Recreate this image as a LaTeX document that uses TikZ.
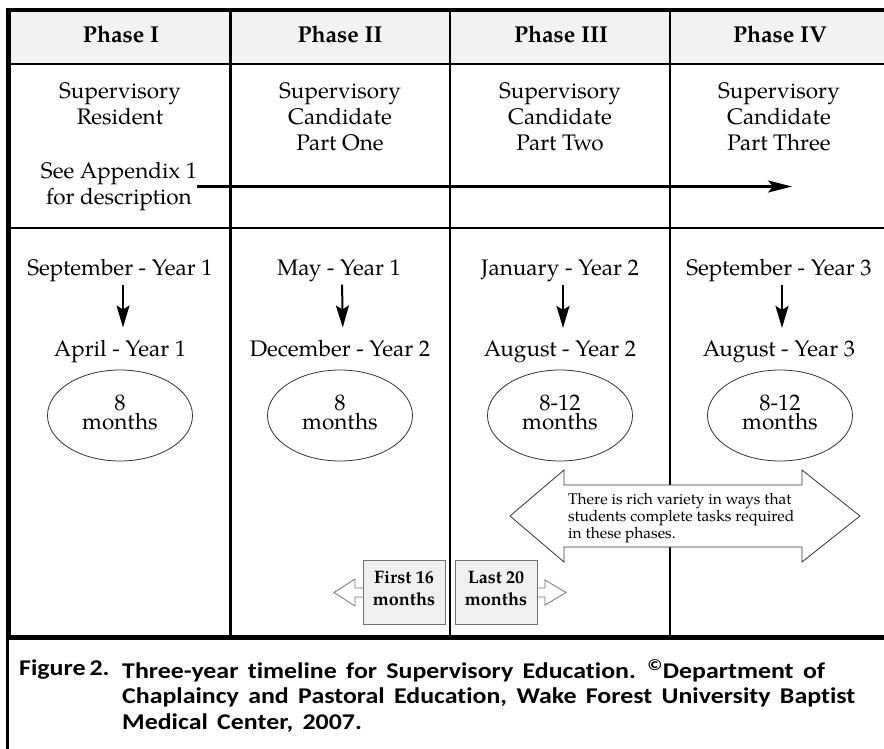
\documentclass[tikz,border=0pt]{standalone}
\usepackage{fontspec}
\setmainfont{texgyrepagella}[Extension=.otf,UprightFont=*-regular,BoldFont=*-bold,ItalicFont=*-italic,BoldItalicFont=*-bolditalic]
\newfontfamily\capfont[FakeStretch=1.15,WordSpace=1.6,Ligatures=CommonOff]{Carlito}
\usetikzlibrary{arrows.meta,shapes.geometric}
\begin{document}
\begin{tikzpicture}[x=1pt,y=-1pt,
 tb/.style={font=\fontsize{22.5}{26}\selectfont, inner sep=0pt, align=center},
 hd/.style={font=\fontsize{23}{27}\selectfont\bfseries, inner sep=0pt, anchor=base},
 gridline/.style={line width=2.5pt},
 downarr/.style={line width=2pt, -{Stealth[length=22pt,width=13pt,inset=4pt]}, shorten <=3pt, shorten >=12pt},
 oval/.style={ellipse, draw=black!80, line width=0.8pt, minimum width=145pt, minimum height=91pt, inner sep=0pt, align=center, font=\fontsize{22.5}{19.5}\selectfont},
 callbox/.style={fill=black!6, draw=black!55, line width=0.8pt},
 callarr/.style={fill=white, draw=black!55, line width=0.8pt},
 calltxt/.style={font=\fontsize{18}{21.7}\selectfont\bfseries, align=center, inner sep=0pt},
 captxt/.style={font=\capfont\bfseries\fontsize{22.5}{25.5}\selectfont, inner sep=0pt},
]
\useasboundingbox (0,0) rectangle (884,749);

% header band
\fill[black!5] (10,12) rectangle (884,63);
% grid lines
\draw[gridline] (8,64) -- (884,64);
\draw[gridline] (8,228) -- (884,228);
\foreach \x in {230.5,450,670} \draw[gridline] (\x,10) -- (\x,637);
\draw[line width=4pt] (6,10) -- (884,10);
\draw[line width=4.5pt] (8.5,8) -- (8.5,637);
\draw[line width=3pt] (7,637) -- (7,749);
\draw[line width=5pt] (6,637.5) -- (884,637.5);

% headers
\node[hd] (h1) at (121,42.7) {Phase I};
\node[hd] (h2) at (340,42.7) {Phase II};
\node[hd] (h3) at (561,42.7) {Phase III};
\node[hd] (h4) at (780,42.7) {Phase IV};

% row 1
\node[tb, anchor=north] (r1) at (120,82) {Supervisory\\Resident};
\node[tb, anchor=north] (r2) at (340,82) {Supervisory\\Candidate\\Part One};
\node[tb, anchor=north] (r3) at (560,82) {Supervisory\\Candidate\\Part Two};
\node[tb, anchor=north] (r4) at (779,82) {Supervisory\\Candidate\\Part Three};
\node[tb, anchor=north] (app) at (119,162) {See Appendix 1\\for description};
\coordinate (arrend) at (792,187);
\draw[line width=2.5pt, -{Stealth[length=24pt,width=12pt,inset=5pt]}] (app.east) -- (app.east -| arrend);

% row 2
\node[tb, anchor=base] (st1) at (120,275) {September - Year 1};
\node[tb, anchor=base] (fi1) at (120,356) {April - Year 1};
\node[tb, anchor=base] (st2) at (339,275) {May - Year 1};
\node[tb, anchor=base] (fi2) at (340,356) {December - Year 2};
\node[tb, anchor=base] (st3) at (560,275) {January - Year 2};
\node[tb, anchor=base] (fi3) at (560,356) {August - Year 2};
\node[tb, anchor=base] (st4) at (779,275) {September - Year 3};
\node[tb, anchor=base] (fi4) at (779,356) {August - Year 3};
\foreach \i in {1,2,3,4}
  \draw[downarr] ([xshift=3pt]st\i.south) -- ([xshift=3pt]fi\i.north);

\node[oval] (o1) at (120,415.5) {8\\months\rule[-7pt]{0pt}{0pt}};
\node[oval] (o2) at (340,415.5) {8\\months\rule[-7pt]{0pt}{0pt}};
\node[oval] (o3) at (560,415.5) {8-12\\months\rule[-7pt]{0pt}{0pt}};
\node[oval] (o4) at (780,415.5) {8-12\\months\rule[-7pt]{0pt}{0pt}};

% big double arrow
\draw[draw=black!80, line width=0.8pt, fill=white] (510,516) -- (564,470) -- (564,485) -- (802,485) -- (802,470) -- (860,516) -- (802,562) -- (802,547) -- (564,547) -- (564,562) -- cycle;
\node[font=\fontsize{15.5}{15.5}\selectfont, align=left, anchor=north west, inner sep=0pt] (var) at (568,493.5) {There is rich variety in ways that\\students complete tasks required\\in these phases.};

% small callouts
\draw[callarr] (363,588) -- (355,588) -- (355,579) -- (334,592.5) -- (355,606) -- (355,597) -- (363,597);
\draw[callbox] (363,560) rectangle (445,624);
\draw[callarr] (537,588) -- (545,588) -- (545,580) -- (566,592.5) -- (545,605) -- (545,597) -- (537,597);
\draw[callbox] (455,560) rectangle (537,624);
\node[calltxt] (c1) at (404,588.6) {First 16\\months};
\node[calltxt] (c2) at (496,588.6) {Last 20\\months};

% caption
\node[captxt, anchor=base west] (fig) at (19,675) {Figure\hspace{4pt}2.};
\node[captxt, anchor=north west, align=left] (cap) at (122,659.5) {Three-year timeline for Supervisory Education. \textsuperscript{\textcopyright}Department of\\Chaplaincy and Pastoral Education, Wake Forest University Baptist\\Medical Center, 2007.};
\end{tikzpicture}
\end{document}
